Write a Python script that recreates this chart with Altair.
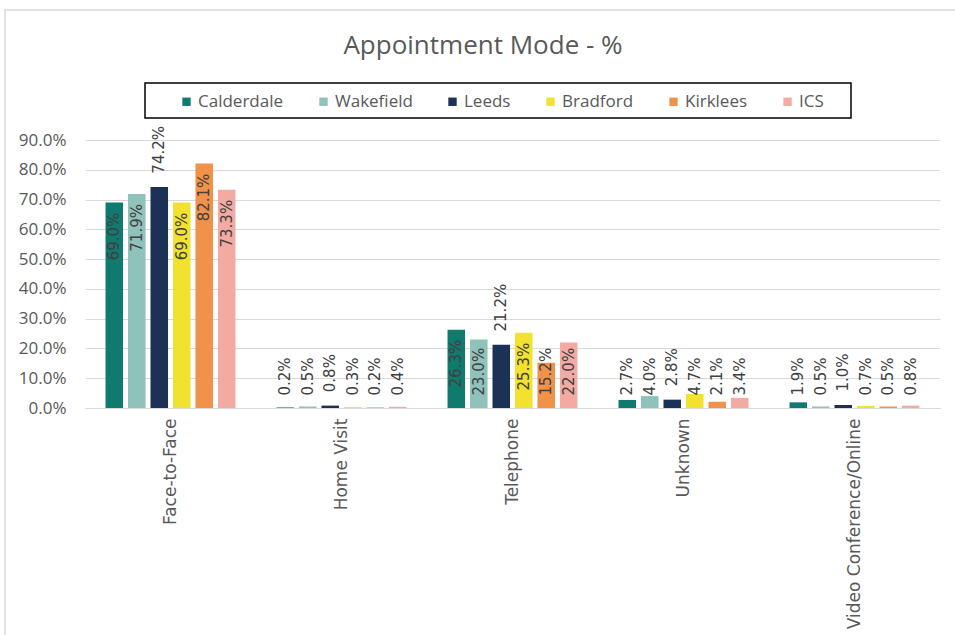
import altair as alt
import pandas as pd

categories = ["Face-to-Face", "Home Visit", "Telephone", "Unknown", "Video Conference/Online"]
series = ["Calderdale", "Wakefield", "Leeds", "Bradford", "Kirklees", "ICS"]
calderdale = [69.0, 0.2, 26.3, 2.7, 1.9]
wakefield = [71.9, 0.5, 23.0, 4.0, 0.5]
leeds = [74.2, 0.8, 21.2, 2.8, 1.0]
bradford = [69.0, 0.3, 25.3, 4.7, 0.7]
kirklees = [82.1, 0.2, 15.2, 2.1, 0.5]
ics = [73.3, 0.4, 22.0, 3.4, 0.8]
colors = ["#117a6f", "#8fc2ba", "#1b3156", "#f0e22e", "#f0924a", "#f2aaa2"]
y_ticks = [0.0, 0.1, 0.2, 0.3, 0.4, 0.5, 0.6, 0.7, 0.8, 0.9]
title_text = "Appointment Mode - %"

rows = []
for s, vals in zip(series, [calderdale, wakefield, leeds, bradford, kirklees, ics]):
    for c, v in zip(categories, vals):
        rows.append({"Mode": c, "Area": s, "value": v / 100.0})
df = pd.DataFrame(rows)

W, H = 855, 268
PL, PT = 85, 140

x_axis = alt.Axis(labelAngle=270, ticks=False, domainColor="#d9d9d9",
                  labelFont="DejaVu Sans", labelFontSize=17, labelLimit=0,
                  labelColor="#595959", labelPadding=10, grid=False)
x_enc = alt.X("Mode:N", sort=categories, title=None,
              scale=alt.Scale(paddingInner=0.24, paddingOuter=0.12), axis=x_axis)
xo_enc = alt.XOffset("Area:N", sort=series, scale=alt.Scale(paddingInner=0.22))
y_scale = alt.Scale(domain=[0, 0.9], nice=False, zero=True)
y_axis = alt.Axis(values=y_ticks, format=".1%", domain=False, ticks=False,
                  gridColor="#d9d9d9", labelFont="Open Sans", labelFontSize=17,
                  labelColor="#595959", labelPadding=19, labelOverlap=False)

bars = alt.Chart(df).mark_bar().encode(
    x=x_enc,
    xOffset=xo_enc,
    y=alt.Y("value:Q", scale=y_scale, title=None, axis=y_axis),
    color=alt.Color("Area:N", sort=series, scale=alt.Scale(domain=series, range=colors),
                    legend=alt.Legend(orient="none", legendX=93, legendY=-47,
                                      direction="horizontal", columns=6, title=None,
                                      symbolType="square", symbolSize=70,
                                      symbolStrokeWidth=0, labelFont="Open Sans",
                                      labelFontSize=17, labelColor="#595959",
                                      columnPadding=31, labelOffset=3, padding=0)),
)

# labels inside the bar end (large bars, not Leeds)
lab_in = alt.Chart(df).transform_filter(
    "datum.Area != 'Leeds' && datum.value >= 0.25"
).transform_calculate(
    ly="datum.value - 0.034", txt="format(datum.value, '.1%')"
).mark_text(angle=270, align="right", baseline="middle", font="DejaVu Sans",
            fontSize=15, color="#404040").encode(
    x=x_enc, xOffset=xo_enc,
    y=alt.Y("ly:Q", scale=y_scale, title=None, axis=y_axis), text="txt:N")

# labels starting above / near the base
lab_out = alt.Chart(df).transform_filter(
    "!(datum.Area != 'Leeds' && datum.value >= 0.25)"
).transform_calculate(
    ly="datum.Area == 'Leeds' ? datum.value + 0.045 : 0.042",
    txt="format(datum.value, '.1%')"
).mark_text(angle=270, align="left", baseline="middle", font="DejaVu Sans",
            fontSize=15, color="#404040").encode(
    x=x_enc, xOffset=xo_enc,
    y=alt.Y("ly:Q", scale=y_scale, title=None, axis=y_axis), text="txt:N")

one = pd.DataFrame({"t": [title_text]})

title = alt.Chart(one).mark_text(font="Open Sans", fontSize=26, color="#595959",
                                 align="center", baseline="middle").encode(
    x=alt.value(483 - PL), y=alt.value(46 - PT), text="t:N")

legend_box = alt.Chart(one).mark_rect(fill="transparent", stroke="#000000",
                                      strokeWidth=1.5).encode(
    x=alt.value(145 - PL), x2=alt.value(851 - PL),
    y=alt.value(83 - PT), y2=alt.value(118 - PT))

outer_box = alt.Chart(one).mark_rect(fill="transparent", stroke="#d9d9d9",
                                     strokeWidth=1.5).encode(
    x=alt.value(5 - PL), x2=alt.value(962 - PL),
    y=alt.value(10 - PT), y2=alt.value(660 - PT))

chart = alt.layer(outer_box, bars, lab_in, lab_out, title, legend_box).properties(
    width=W, height=H,
    autosize=alt.AutoSizeParams(type="none"),
    padding={"left": PL, "top": PT, "right": 955 - PL - W, "bottom": 635 - PT - H},
    background="white",
).configure_view(stroke=None)

chart.save("out.html", embed_options={"renderer": "svg", "actions": False})
